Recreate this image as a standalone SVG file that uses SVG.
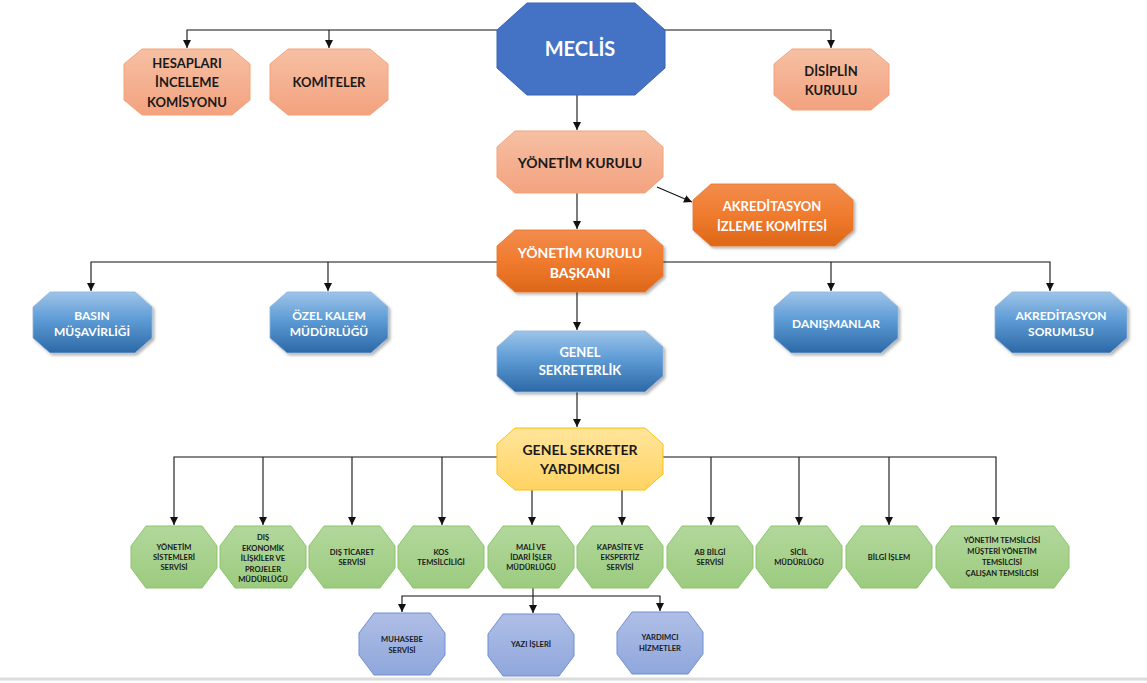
<svg xmlns="http://www.w3.org/2000/svg" xmlns:xlink="http://www.w3.org/1999/xlink" width="1147" height="683" viewBox="0 0 1147 683">
<style>
text{font-family:Lato,"Open Sans","Liberation Sans",sans-serif;font-weight:bold;text-anchor:middle;dominant-baseline:central}
.dk{fill:#1a1a1a}
.wt{fill:#ffffff}
.conn{fill:none;stroke:#111;stroke-width:1.1}
.arr{marker-end:url(#ah)}
.salmon{fill:url(#gSalmon);stroke:#F4A27A;stroke-width:1}
.orange{fill:url(#gOrange);stroke:#E8742C;stroke-width:0.8;filter:url(#sh)}
.blue{fill:url(#gBlue);stroke:#8DB4DE;stroke-width:0.8;filter:url(#sh)}
.yellow{fill:url(#gYellow);stroke:#FFC000;stroke-width:1}
.green{fill:url(#gGreen);stroke:#8CC46A;stroke-width:1}
.purple{fill:url(#gPurple);stroke:#6F8FD2;stroke-width:1}
.t20{font-size:20px}.t14{font-size:14px}.t13{font-size:13px}.t12{font-size:12px}.t8{font-size:7.6px}
</style>
<defs>
<marker id="ah" markerUnits="userSpaceOnUse" markerWidth="9" markerHeight="9" refX="8" refY="4" orient="auto" viewBox="0 0 9 8">
<path d="M0,0 L8,4 L0,8 Z" fill="#111"/>
</marker>
<linearGradient id="gSalmon" x1="0" y1="0" x2="0" y2="1"><stop offset="0" stop-color="#F6C0A3"/><stop offset="1" stop-color="#F3A27F"/></linearGradient>
<linearGradient id="gOrange" x1="0" y1="0" x2="0" y2="1"><stop offset="0" stop-color="#F28C4C"/><stop offset="0.5" stop-color="#F07B2E"/><stop offset="1" stop-color="#DD6718"/></linearGradient>
<linearGradient id="gBlue" x1="0" y1="0" x2="0" y2="1"><stop offset="0" stop-color="#9EC4E8"/><stop offset="0.45" stop-color="#5E9CD6"/><stop offset="1" stop-color="#2C68A6"/></linearGradient>
<linearGradient id="gYellow" x1="0" y1="0" x2="0" y2="1"><stop offset="0" stop-color="#FFE59B"/><stop offset="1" stop-color="#FFD363"/></linearGradient>
<linearGradient id="gGreen" x1="0" y1="0" x2="0" y2="1"><stop offset="0" stop-color="#B2D89C"/><stop offset="1" stop-color="#9CCB7F"/></linearGradient>
<linearGradient id="gPurple" x1="0" y1="0" x2="0" y2="1"><stop offset="0" stop-color="#AFBEE6"/><stop offset="1" stop-color="#8FA7DC"/></linearGradient>
<filter id="sh" x="-10%" y="-10%" width="125%" height="130%"><feDropShadow dx="2" dy="2" stdDeviation="1.5" flood-color="#000" flood-opacity="0.3"/></filter>
<path id="oct86" d="M15,0 L71,0 L86,20 L86,42 L71,62 L15,62 L0,42 L0,20 Z"/>
<path id="oct133" d="M15,0 L118,0 L133,20 L133,42 L118,62 L15,62 L0,42 L0,20 Z"/>
</defs>
<rect x="0" y="0" width="1147" height="683" fill="#ffffff"/>
<line x1="0" y1="679" x2="1147" y2="679" stroke="#dcdcdc" stroke-width="3"/>

<g id="connectors">
<polyline class="conn arr" points="497,30 187,30 187,48"/>
<polyline class="conn arr" points="329,30 329,48"/>
<polyline class="conn arr" points="665,30 831,30 831,48"/>
<polyline class="conn arr" points="577,95 577,130"/>
<polyline class="conn arr" points="577,193 577,229"/>
<polyline class="conn arr" points="657,187 692,202"/>
<polyline class="conn arr" points="497,262 91,262 91,291"/>
<polyline class="conn arr" points="328,262 328,291"/>
<polyline class="conn arr" points="663,262 1050,262 1050,291"/>
<polyline class="conn arr" points="831,262 831,291"/>
<polyline class="conn arr" points="577,292 577,330"/>
<polyline class="conn arr" points="577,392 577,427"/>
<polyline class="conn arr" points="497,457 174,457 174,525"/>
<polyline class="conn arr" points="263,457 263,525"/>
<polyline class="conn arr" points="352,457 352,525"/>
<polyline class="conn arr" points="442,457 442,525"/>
<polyline class="conn arr" points="532,490 532,525"/>
<polyline class="conn arr" points="622,490 622,525"/>
<polyline class="conn arr" points="663,457 996,457 996,525"/>
<polyline class="conn arr" points="711,457 711,525"/>
<polyline class="conn arr" points="799,457 799,525"/>
<polyline class="conn arr" points="889,457 889,525"/>
<polyline class="conn arr" points="533,588 533,613"/>
<polyline class="conn arr" points="533,596 402,596 402,612"/>
<polyline class="conn arr" points="533,596 660,596 660,611"/>
</g>

<g id="meclis">
<path d="M527,3 L635,3 L665,30 L665,68 L635,95 L527,95 L497,68 L497,30 Z" fill="#4472C4" stroke="#3A64B0" stroke-width="1"/>
<text class="wt t20" x="580" y="48">MECLİS</text>
</g>
<g id="hesaplari">
<path class="salmon" d="M142,49 L232,49 L250,64 L250,100 L232,115 L142,115 L124,100 L124,64 Z"/>
<text class="dk t13" x="187" y="63">HESAPLARI</text>
<text class="dk t13" x="187" y="82">İNCELEME</text>
<text class="dk t13" x="187" y="102">KOMİSYONU</text>
</g>
<g id="komiteler">
<path class="salmon" d="M288,49 L370,49 L388,64 L388,100 L370,115 L288,115 L270,100 L270,64 Z"/>
<text class="dk t13" x="329" y="82">KOMİTELER</text>
</g>
<g id="disiplin">
<path class="salmon" d="M792,49 L871,49 L889,64 L889,95 L871,110 L792,110 L774,95 L774,64 Z"/>
<text class="dk t13" x="831" y="71">DİSİPLİN</text>
<text class="dk t13" x="831" y="90">KURULU</text>
</g>
<g id="yonetim-kurulu">
<path class="salmon" d="M515,131 L645,131 L663,147 L663,177 L645,193 L515,193 L497,177 L497,147 Z"/>
<text class="dk t14" x="580" y="162">YÖNETİM KURULU</text>
</g>
<g id="akreditasyon-izleme">
<path class="orange" d="M711,184 L835,184 L853,200 L853,230 L835,246 L711,246 L693,230 L693,200 Z"/>
<text class="wt t13" x="772" y="206">AKREDİTASYON</text>
<text class="wt t13" x="772" y="226">İZLEME KOMİTESİ</text>
</g>
<g id="yk-baskani">
<path class="orange" d="M515,230 L645,230 L663,246 L663,276 L645,292 L515,292 L497,276 L497,246 Z"/>
<text class="wt t14" x="580" y="252">YÖNETİM KURULU</text>
<text class="wt t14" x="580" y="272">BAŞKANI</text>
</g>
<g id="basin">
<path class="blue" d="M50,292 L135,292 L152,307 L152,338 L135,353 L50,353 L33,338 L33,307 Z"/>
<text class="wt t12" x="92" y="315">BASIN</text>
<text class="wt t12" x="92" y="331">MÜŞAVİRLİĞİ</text>
</g>
<g id="ozel-kalem">
<path class="blue" d="M287,292 L371,292 L388,307 L388,338 L371,353 L287,353 L270,338 L270,307 Z"/>
<text class="wt t12" x="329" y="315">ÖZEL KALEM</text>
<text class="wt t12" x="329" y="331">MÜDÜRLÜĞÜ</text>
</g>
<g id="danismanlar">
<path class="blue" d="M791,292 L881,292 L898,307 L898,338 L881,353 L791,353 L774,338 L774,307 Z"/>
<text class="wt t12" x="836" y="323">DANIŞMANLAR</text>
</g>
<g id="akreditasyon-sorumlu">
<path class="blue" d="M1012,292 L1110,292 L1127,307 L1127,338 L1110,353 L1012,353 L995,338 L995,307 Z"/>
<text class="wt t12" x="1061" y="315">AKREDİTASYON</text>
<text class="wt t12" x="1061" y="331">SORUMLSU</text>
</g>
<g id="genel-sekreterlik">
<path class="blue" d="M515,331 L645,331 L663,347 L663,376 L645,392 L515,392 L497,376 L497,347 Z"/>
<text class="wt t13" x="580" y="352">GENEL</text>
<text class="wt t13" x="580" y="370">SEKRETERLİK</text>
</g>
<g id="gs-yardimcisi">
<path class="yellow" d="M515,428 L645,428 L663,444 L663,474 L645,490 L515,490 L497,474 L497,444 Z"/>
<text class="dk t14" x="580" y="449">GENEL SEKRETER</text>
<text class="dk t14" x="580" y="468">YARDIMCISI</text>
</g>

<g id="yonetim-sistemleri">
<use xlink:href="#oct86" class="green" x="131" y="526"/>
<text class="dk t8" x="174" y="547">YÖNETİM</text>
<text class="dk t8" x="174" y="557">SİSTEMLERİ</text>
<text class="dk t8" x="174" y="567">SERVİSİ</text>
</g>
<g id="dis-ekonomik">
<use xlink:href="#oct86" class="green" x="220" y="526"/>
<text class="dk t8" x="263" y="537">DIŞ</text>
<text class="dk t8" x="263" y="547.5">EKONOMİK</text>
<text class="dk t8" x="263" y="558">İLİŞKİLER VE</text>
<text class="dk t8" x="263" y="568.5">PROJELER</text>
<text class="dk t8" x="263" y="579">MÜDÜRLÜĞÜ</text>
</g>
<g id="dis-ticaret">
<use xlink:href="#oct86" class="green" x="309" y="526"/>
<text class="dk t8" x="352" y="552">DIŞ TİCARET</text>
<text class="dk t8" x="352" y="562">SERVİSİ</text>
</g>
<g id="kos">
<use xlink:href="#oct86" class="green" x="398" y="526"/>
<text class="dk t8" x="441" y="552">KOS</text>
<text class="dk t8" x="441" y="562">TEMSİLCİLİĞİ</text>
</g>
<g id="mali-idari">
<use xlink:href="#oct86" class="green" x="488" y="526"/>
<text class="dk t8" x="531" y="547">MALİ VE</text>
<text class="dk t8" x="531" y="557">İDARİ İŞLER</text>
<text class="dk t8" x="531" y="567">MÜDÜRLÜĞÜ</text>
</g>
<g id="kapasite">
<use xlink:href="#oct86" class="green" x="577" y="526"/>
<text class="dk t8" x="620" y="547">KAPASİTE VE</text>
<text class="dk t8" x="620" y="557">EKSPERTİZ</text>
<text class="dk t8" x="620" y="567">SERVİSİ</text>
</g>
<g id="ab-bilgi">
<use xlink:href="#oct86" class="green" x="667" y="526"/>
<text class="dk t8" x="710" y="552">AB BİLGİ</text>
<text class="dk t8" x="710" y="562">SERVİSİ</text>
</g>
<g id="sicil">
<use xlink:href="#oct86" class="green" x="756" y="526"/>
<text class="dk t8" x="799" y="552">SİCİL</text>
<text class="dk t8" x="799" y="562">MÜDÜRLÜĞÜ</text>
</g>
<g id="bilgi-islem">
<use xlink:href="#oct86" class="green" x="846" y="526"/>
<text class="dk t8" x="889" y="557">BİLGİ İŞLEM</text>
</g>
<g id="yonetim-temsilcisi">
<use xlink:href="#oct133" class="green" x="936" y="526"/>
<text class="dk t8" x="1002" y="540">YÖNETİM TEMSİLCİSİ</text>
<text class="dk t8" x="1002" y="551">MÜŞTERİ YÖNETİM</text>
<text class="dk t8" x="1002" y="562">TEMSİLCİSİ</text>
<text class="dk t8" x="1002" y="573">ÇALIŞAN TEMSİLCİSİ</text>
</g>

<g id="muhasebe">
<use xlink:href="#oct86" class="purple" x="359" y="613"/>
<text class="dk t8" x="402" y="639">MUHASEBE</text>
<text class="dk t8" x="402" y="650">SERVİSİ</text>
</g>
<g id="yazi-isleri">
<use xlink:href="#oct86" class="purple" x="488" y="614"/>
<text class="dk t8" x="531" y="644">YAZI İŞLERİ</text>
</g>
<g id="yardimci">
<use xlink:href="#oct86" class="purple" x="617" y="612"/>
<text class="dk t8" x="660" y="637">YARDIMCI</text>
<text class="dk t8" x="660" y="648">HİZMETLER</text>
</g>
</svg>
